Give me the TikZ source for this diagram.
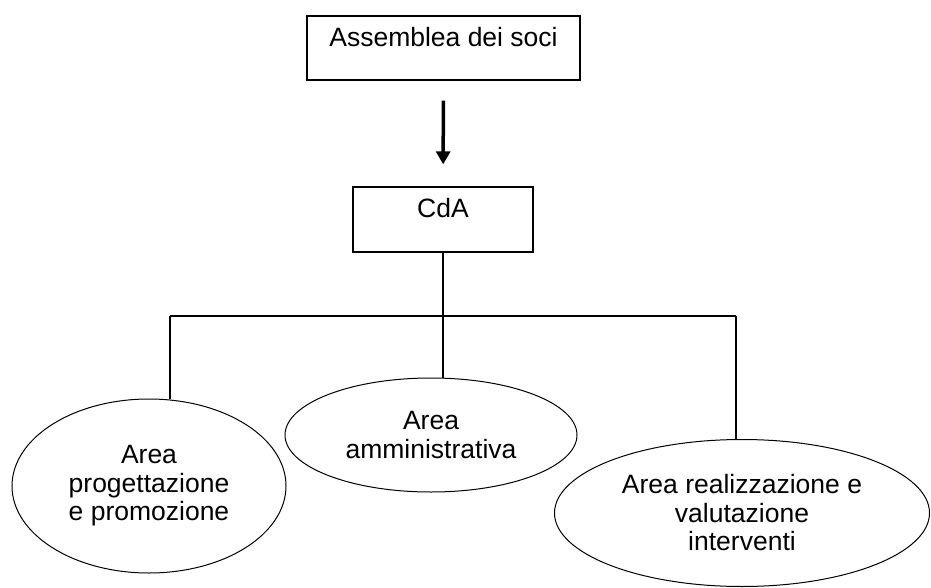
\documentclass[tikz,border=0pt]{standalone}
\usepackage{fontspec}
\setmainfont{Liberation Sans}
\usetikzlibrary{shapes.geometric}
\usetikzlibrary{arrows.meta}
\tikzset{x=1pt, y=-1pt,
    every node/.style={
        font=\fontsize{26.5}{28.5}\selectfont,
        align=center,
        inner sep=0pt},
    box/.style={
        draw,
        rectangle,
        line width=1.3pt,
        text height=19pt},
    area/.style={
        draw,
        ellipse,
        line width=1pt},
    link/.style={
        draw,
        line width=1.3pt},
    flow/.style={
        draw,
        line width=3.5pt,
        -{Triangle[length=13pt,width=14pt]}}}

\begin{document}
\begin{tikzpicture}
        \useasboundingbox (0,0) rectangle (931,588);

        \node[box, minimum width=273pt, minimum height=64pt, text depth=21pt] (soci) at (443.5,48) {Assemblea dei soci};
        \node[box, minimum width=180pt, minimum height=65pt, text depth=24pt] (cda) at (443,219.5) {CdA};

        \node[area, minimum width=274pt, minimum height=174pt] (prog) at (149,486) {Area\\progettazione\\e promozione};
        \node[area, minimum width=292pt, minimum height=114pt] (amm) at (431,435) {Area\\amministrativa};
        \node[area, minimum width=375pt, minimum height=147pt] (real) at (742,513) {Area realizzazione e\\valutazione\\interventi};

        \coordinate (split) at (443,316);
        \coordinate (hl) at (170,316);
        \coordinate (hr) at (736,316);

        \draw[flow, shorten <=20pt, shorten >=22pt] (soci) -- (cda);
        \draw[link] (cda) -- (split);
        \draw[link] (hl) -- (hr);
        \draw[link] (hl) -- (hl |- prog.north);
        \draw[link] (split) -- (amm.north -| split);
        \draw[link] (hr) -- (hr |- real.north);
    \end{tikzpicture}
\end{document}
